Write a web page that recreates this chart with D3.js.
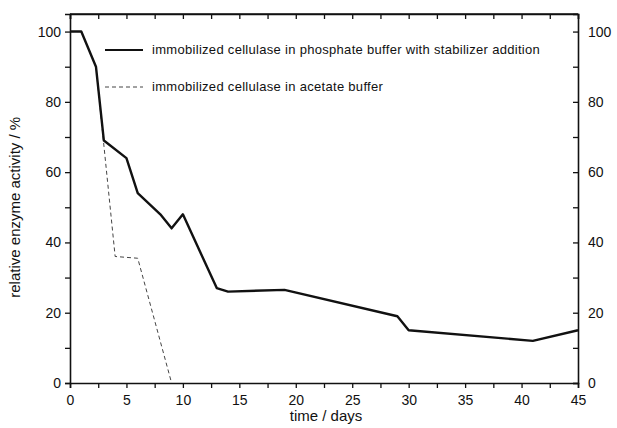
<!DOCTYPE html>
<html>
<head>
<meta charset="utf-8">
<script src="https://cdn.jsdelivr.net/npm/d3@7"></script>
<style>
  body { margin: 0; background: #fff; }
  text { font-family: "Liberation Sans", Arial, sans-serif; fill: #111; }
</style>
</head>
<body>
<div id="chart"></div>
<script>
// phosphate buffer with stabilizer (solid line)
var phosphateDays = [0, 1, 2.3, 3, 5, 6, 8, 9, 10, 13, 14, 19, 29, 30, 41, 45];
var phosphateActivity = [100, 100, 90, 69, 64, 54, 48, 44, 48, 27, 26, 26.5, 19, 15, 12, 15];

// acetate buffer (dashed line)
var acetateDays = [0, 1, 2.3, 2.8, 4, 6, 9];
var acetateActivity = [100, 100, 90, 74, 36, 35.5, 0];

var seriesNames = [
  "immobilized cellulase in phosphate buffer with stabilizer addition",
  "immobilized cellulase in acetate buffer"
];

var xMajorTicks = [0, 5, 10, 15, 20, 25, 30, 35, 40, 45];
var yMajorTicks = [0, 20, 40, 60, 80, 100];

function drawChart() {
  var margin = { top: 14, right: 39, bottom: 45, left: 70 },
    width = 617 - margin.left - margin.right,
    height = 428 - margin.top - margin.bottom;

  var svg = d3
    .select("#chart")
    .append("svg")
    .attr("width", 617)
    .attr("height", 428)
    .append("g")
    .attr("transform", "translate(" + margin.left + "," + margin.top + ")");

  var x = d3.scaleLinear().domain([0, 45]).range([0, width]);
  var y = d3.scaleLinear().domain([0, 105]).range([height, 0]);

  var xMinor = d3.range(0, 45.01, 2.5);
  var yMinor = d3.range(0, 105, 10);

  function styleAxis(g) {
    g.select(".domain").attr("stroke", "#111").attr("stroke-width", 1.6);
    g.selectAll(".tick line").attr("stroke", "#111").attr("stroke-width", 1.3);
    g.selectAll(".tick text").style("font-size", "14px");
  }

  // bottom axis: ticks outward
  svg
    .append("g")
    .attr("transform", "translate(0," + height + ")")
    .call(
      d3.axisBottom(x).tickValues(xMinor).tickSize(5).tickPadding(7)
        .tickFormat(function (d) { return xMajorTicks.indexOf(d) >= 0 ? d : ""; })
    )
    .call(styleAxis);

  // top axis: ticks inward
  svg
    .append("g")
    .call(d3.axisBottom(x).tickValues(xMinor).tickSize(5).tickFormat(""))
    .call(styleAxis);

  // left axis: ticks outward
  svg
    .append("g")
    .call(
      d3.axisLeft(y).tickValues(yMinor).tickSize(5).tickPadding(4)
        .tickFormat(function (d) { return yMajorTicks.indexOf(d) >= 0 ? d : ""; })
    )
    .call(styleAxis);

  // right axis: ticks inward, labels outside
  var right = svg
    .append("g")
    .attr("transform", "translate(" + width + ",0)")
    .call(
      d3.axisLeft(y).tickValues(yMinor).tickSize(5)
        .tickFormat(function (d) { return yMajorTicks.indexOf(d) >= 0 ? d : ""; })
    )
    .call(styleAxis);
  right.selectAll(".tick text").attr("x", 10).attr("text-anchor", "start");

  // top frame line
  svg.append("line")
    .attr("x1", 0).attr("x2", width).attr("y1", 0).attr("y2", 0)
    .attr("stroke", "#111").attr("stroke-width", 1.6);

  var line = d3
    .line()
    .x(function (d) { return x(d[0]); })
    .y(function (d) { return y(d[1]); });

  var acetate = acetateDays.map(function (d, i) { return [d, acetateActivity[i]]; });
  var phosphate = phosphateDays.map(function (d, i) { return [d, phosphateActivity[i]]; });

  svg.append("path")
    .datum(acetate)
    .attr("d", line)
    .attr("fill", "none")
    .attr("stroke", "#444")
    .attr("stroke-width", 1)
    .attr("stroke-dasharray", "4,3");

  svg.append("path")
    .datum(phosphate)
    .attr("d", line)
    .attr("fill", "none")
    .attr("stroke", "#111")
    .attr("stroke-width", 2.4)
    .attr("stroke-linejoin", "round");

  // legend
  var legend = svg.append("g").attr("transform", "translate(35,36)");
  var styles = [
    { w: 2, dash: null, c: "#111" },
    { w: 1, dash: "4,3", c: "#444" }
  ];
  seriesNames.forEach(function (name, i) {
    var row = legend.append("g").attr("transform", "translate(0," + i * 37 + ")");
    row.append("line")
      .attr("x1", 0).attr("x2", 38).attr("y1", 0).attr("y2", 0)
      .attr("stroke", styles[i].c)
      .attr("stroke-width", styles[i].w)
      .attr("stroke-dasharray", styles[i].dash);
    row.append("text")
      .attr("x", 47)
      .attr("y", 4)
      .style("font-size", "13px")
      .style("letter-spacing", "0.3px")
      .text(name);
  });

  // axis titles
  svg.append("text")
    .attr("x", width / 2 + 2)
    .attr("y", height + 38)
    .attr("text-anchor", "middle")
    .style("font-size", "15px")
    .text("time / days");

  svg.append("text")
    .attr("transform", "translate(-50," + y(50) + ") rotate(-90)")
    .attr("text-anchor", "middle")
    .style("font-size", "15px")
    .text("relative enzyme activity / %");
}

drawChart();
</script>
</body>
</html>
